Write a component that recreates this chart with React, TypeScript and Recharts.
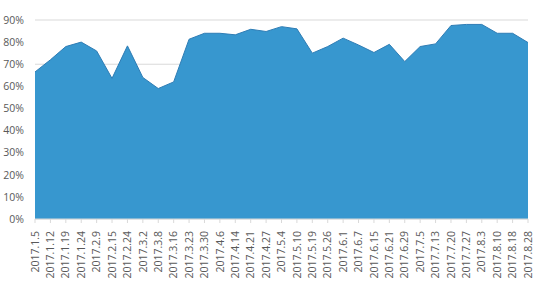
import React from 'react';
import { AreaChart, Area, XAxis, YAxis, CartesianGrid } from 'recharts';

const dates = [
  '2017.1.5', '2017.1.12', '2017.1.19', '2017.1.24', '2017.2.9', '2017.2.15', '2017.2.24',
  '2017.3.2', '2017.3.8', '2017.3.16', '2017.3.23', '2017.3.30', '2017.4.6', '2017.4.14',
  '2017.4.21', '2017.4.27', '2017.5.4', '2017.5.10', '2017.5.19', '2017.5.26', '2017.6.1',
  '2017.6.7', '2017.6.15', '2017.6.21', '2017.6.29', '2017.7.5', '2017.7.13', '2017.7.20',
  '2017.7.27', '2017.8.3', '2017.8.10', '2017.8.18', '2017.8.28'
];

const rates = [
  66.5, 72, 78, 80, 76, 63.6, 78.3,
  64, 59, 62, 81.3, 84, 84, 83.3,
  85.8, 84.8, 87, 86, 75, 78, 81.8,
  78.7, 75.3, 79, 71.2, 78, 79.2, 87.5,
  88, 88, 84, 84, 79.8
];

const yTicks = [0, 10, 20, 30, 40, 50, 60, 70, 80, 90];

const data = dates.map((d, i) => ({ date: d, rate: rates[i] }));

const fontFamily = '"Open Sans", sans-serif';

const DateTick = (props: any) => {
  const { x, y, payload } = props;
  return (
    <text
      x={x}
      y={y + 6}
      dy="0.35em"
      textAnchor="end"
      fill="#595959"
      fontSize={10.5}
      fontFamily={fontFamily}
      transform={`rotate(-90, ${x}, ${y + 6})`}
    >
      {payload.value}
    </text>
  );
};

export default function App() {
  return (
    <div style={{ position: 'absolute', left: 0, top: 0, width: 542, height: 281, background: '#fff' }}>
      <AreaChart
        width={542}
        height={281}
        data={data}
        margin={{ top: 20, right: 14, left: 0, bottom: 0 }}
      >
        <CartesianGrid vertical={false} stroke="#D9D9D9" />
        <XAxis
          dataKey="date"
          interval={0}
          height={62}
          tick={<DateTick />}
          axisLine={{ stroke: '#D9D9D9' }}
          tickLine={{ stroke: '#D9D9D9' }}
          tickSize={4}
        />
        <YAxis
          width={35}
          domain={[0, 90]}
          ticks={yTicks}
          axisLine={false}
          tickLine={false}
          tickMargin={5}
          tickFormatter={(v: number) => `${v}%`}
          tick={{ fill: '#595959', fontSize: 10.5, fontFamily }}
        />
        <Area
          type="linear"
          dataKey="rate"
          stroke="#2F7DB5"
          strokeWidth={1}
          fill="#3797CF"
          fillOpacity={1}
          isAnimationActive={false}
        />
      </AreaChart>
    </div>
  );
}
